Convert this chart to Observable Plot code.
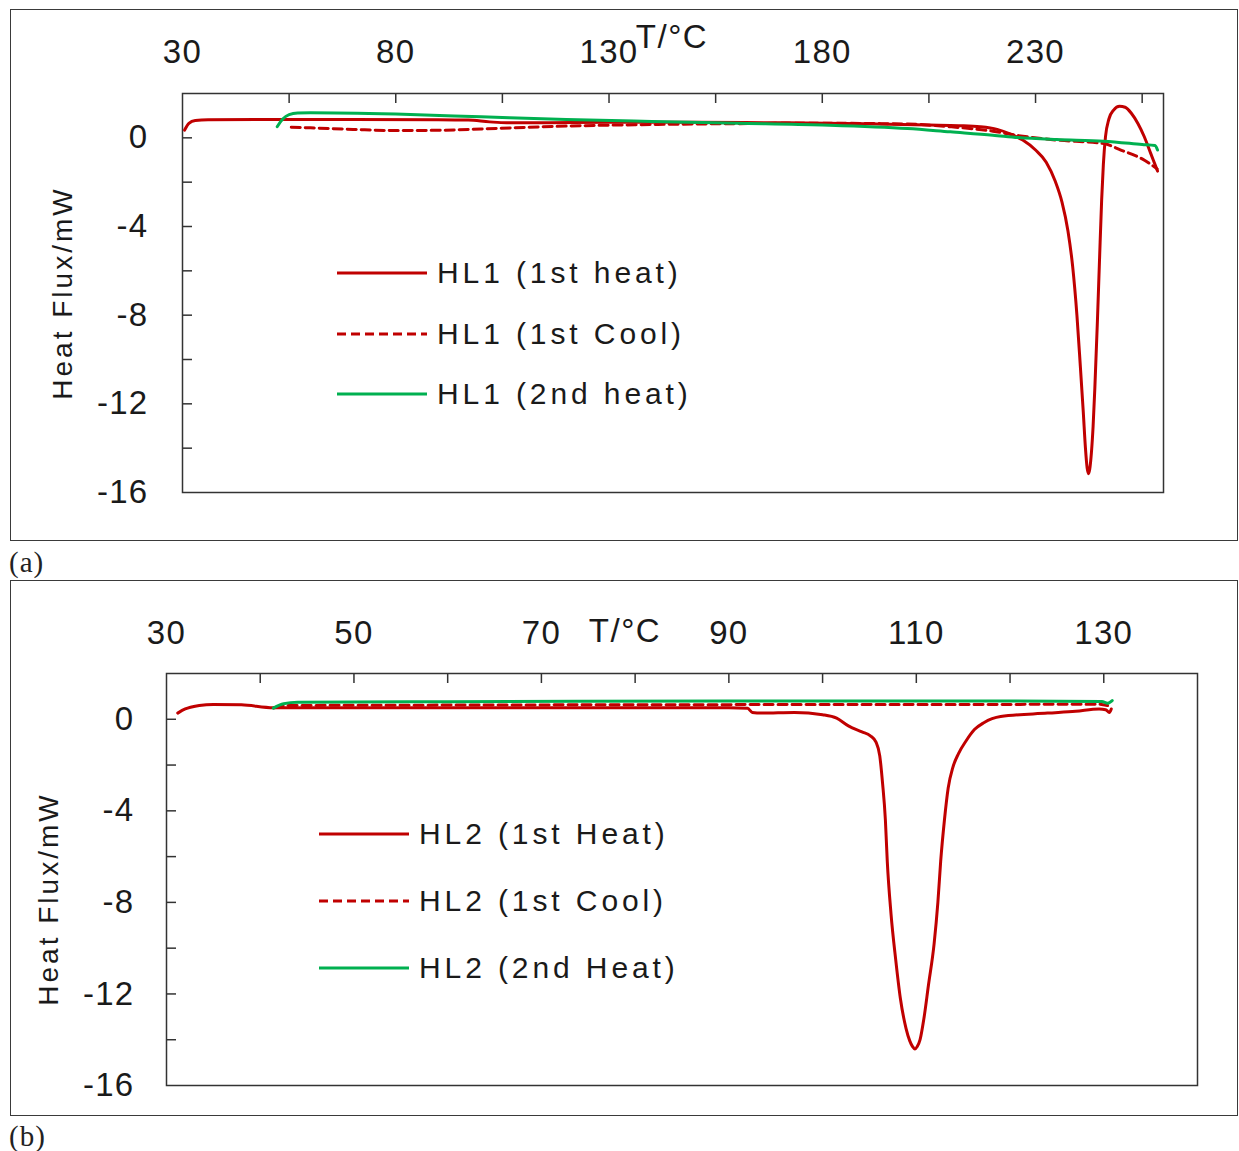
<!DOCTYPE html>
<html><head><meta charset="utf-8">
<script src="https://cdn.jsdelivr.net/npm/d3@7"></script>
<script src="https://cdn.jsdelivr.net/npm/@observablehq/plot@0.6"></script>
<style>
body{margin:0;background:#fff;}
#page{position:relative;width:1239px;height:1151px;background:#fff;font-family:"Liberation Sans",Arial,sans-serif;color:#1a1a1a;overflow:hidden}
.box{position:absolute;border:1.5px solid #3a3a3a;box-sizing:border-box}
.plot{position:absolute;left:0}
.plot text{letter-spacing:1.3px;fill:#1a1a1a}
.lbl{position:absolute;white-space:nowrap;line-height:1}
.ylab{position:absolute;white-space:nowrap;font-size:28px;letter-spacing:3px;transform:translate(-50%,-50%) rotate(-90deg);line-height:1}
.tlab{position:absolute;white-space:nowrap;font-size:33px;letter-spacing:1.5px;transform:translate(-50%,-50%);line-height:1}
.leg{position:absolute;font-size:30px;letter-spacing:3.9px;white-space:nowrap}
.leg .row{position:absolute;left:0;height:0;display:flex;align-items:center}
.leg svg{display:block;margin-right:10px}
.leg span{display:block}
.panel{position:absolute;font-family:"Liberation Serif","DejaVu Serif",serif;font-size:29px;letter-spacing:1px;color:#222;line-height:1}
</style></head>
<body><div id="page"></div>
<script>
// ---------- Panel (a) data: HL1 ----------
const hl1Heat1T = [30.5,31.5,33,36,50,70,90,97,102,106,115,130,150,170,190,205,212,217,221,224,227,230,232.5,234.6,236.2,237.6,238.7,239.7,240.5,241.2,241.7,242.1,242.4,242.7,243.1,243.5,243.9,244.5,245.0,245.5,245.9,246.4,247.2,248.3,249.7,251,252.5,254,255.5,257,258.2,258.6];
const hl1Heat1Q = [0.35,0.65,0.78,0.82,0.83,0.83,0.82,0.8,0.72,0.68,0.68,0.7,0.7,0.68,0.64,0.58,0.55,0.5,0.38,0.18,-0.1,-0.55,-1.1,-1.95,-2.9,-4.2,-5.8,-8.0,-10.3,-12.4,-14.0,-14.9,-15.15,-14.95,-14.2,-13.0,-11.3,-8.3,-5.5,-2.8,-1.2,0.05,0.85,1.25,1.42,1.38,1.1,0.65,0.05,-0.7,-1.3,-1.5];
const hl1Cool1T = [55.5,60,70,80,90,100,110,120,140,160,180,200,210,220,226,235,246,250,255,258.5];
const hl1Cool1Q = [0.48,0.45,0.38,0.33,0.34,0.4,0.47,0.53,0.6,0.64,0.66,0.62,0.5,0.3,0.1,-0.1,-0.26,-0.55,-0.95,-1.4];
const hl1Heat2T = [52.2,53.5,55,57,60,80,100,120,140,160,180,200,210,220,226,235,246,255,258,258.6];
const hl1Heat2Q = [0.5,0.85,1.05,1.12,1.13,1.07,0.95,0.83,0.74,0.66,0.58,0.42,0.27,0.12,0.01,-0.08,-0.15,-0.3,-0.35,-0.55];

// ---------- Panel (b) data: HL2 ----------
const hl2Heat1T = [31.2,32,33.5,35,38,41.4,50,70,90,92,92.5,93.5,97,100,101.5,102.8,104.2,105.1,105.7,106.1,106.4,106.7,106.9,107.3,107.8,108.3,108.9,109.3,109.6,109.85,110.1,110.4,110.8,111.3,111.9,112.3,112.6,113.0,113.4,113.9,114.5,115.3,116.2,117.2,119,124,127,129.5,130.2,130.6,130.8];
const hl2Heat1Q = [0.27,0.45,0.6,0.65,0.63,0.5,0.5,0.5,0.5,0.48,0.3,0.27,0.3,0.2,0.05,-0.3,-0.55,-0.72,-1.0,-1.6,-2.8,-4.4,-6.2,-8.5,-10.5,-12.2,-13.5,-14.05,-14.3,-14.4,-14.3,-14.0,-13.1,-11.6,-9.8,-8.0,-6.2,-4.4,-3.0,-2.1,-1.5,-0.95,-0.45,-0.15,0.12,0.27,0.35,0.45,0.42,0.3,0.45];
const hl2Cool1T = [41.5,43,60,90,120,129.5,130.4];
const hl2Cool1Q = [0.5,0.6,0.62,0.64,0.65,0.66,0.6];
const hl2Heat2T = [41.4,42.5,44,60,90,120,129.8,130.4,130.9];
const hl2Heat2Q = [0.49,0.68,0.74,0.77,0.8,0.8,0.78,0.7,0.82];

// ---------- Axes ----------
const xTicksA = [55,80,105,130,155,180,205,230,255];
const xLabelsA = [30,80,130,180,230];
const xTicksB = [40,50,60,70,80,90,100,110,120,130];
const xLabelsB = [30,50,70,90,110,130];
const yTicks = [0,-2,-4,-6,-8,-10,-12,-14];
const yLabels = [0,-4,-8,-12,-16];
const legendA = ["HL1 (1st heat)","HL1 (1st Cool)","HL1 (2nd heat)"];
const legendB = ["HL2 (1st Heat)","HL2 (1st Cool)","HL2 (2nd Heat)"];
const RED = "#c00000", GREEN = "#00b050";

const rows = (T, Q) => T.map((t, i) => ({T: t, Q: Q[i]}));
const page = document.getElementById("page");

function makePlot(o) {
  const W = 1239;
  const innerW = W - o.ml - o.mr, innerH = o.h - o.mt - o.mb;
  const p = Plot.plot({
    width: W, height: o.h,
    marginLeft: o.ml, marginRight: o.mr, marginTop: o.mt, marginBottom: o.mb,
    style: {background: "transparent", overflow: "visible", fontFamily: '"Liberation Sans", Arial, sans-serif'},
    x: {domain: o.xd},
    y: {domain: [-16, 2]},
    marks: [
      Plot.axisX({anchor: "top", label: null, ticks: o.xl, tickSize: 0, tickPadding: o.xpad, fontSize: 33, tickFormat: d => String(d)}),
      Plot.axisY({anchor: "left", label: null, ticks: yLabels, tickSize: 0, tickPadding: o.ypad, fontSize: 33, tickFormat: d => String(d)}),
      Plot.tickX(o.xt, {x: d => d, insetBottom: innerH - 10, stroke: "#333", strokeWidth: 1.5}),
      Plot.tickY(yTicks, {y: d => d, insetRight: innerW - 10, stroke: "#333", strokeWidth: 1.5}),
      Plot.frame({stroke: "#333", strokeWidth: 1.5}),
      Plot.line(rows(o.s1[0], o.s1[1]), {x: "T", y: "Q", stroke: RED, strokeWidth: 3, curve: "monotone-x"}),
      Plot.line(rows(o.s2[0], o.s2[1]), {x: "T", y: "Q", stroke: RED, strokeWidth: 3, strokeDasharray: "9,5", curve: "monotone-x"}),
      Plot.line(rows(o.s3[0], o.s3[1]), {x: "T", y: "Q", stroke: GREEN, strokeWidth: 3, curve: "monotone-x"})
    ]
  });
  p.classList.add("plot");
  p.style.top = o.top + "px";
  page.appendChild(p);
}

function box(l, t, w, h) {
  const d = document.createElement("div");
  d.className = "box";
  Object.assign(d.style, {left: l + "px", top: t + "px", width: w + "px", height: h + "px"});
  page.appendChild(d);
}
function label(cls, text, x, y) {
  const d = document.createElement("div");
  d.className = cls; d.textContent = text;
  d.style.left = x + "px"; d.style.top = y + "px";
  page.appendChild(d);
}
function legend(labels, x, ys) {
  const styles = [{c: RED, dash: null}, {c: RED, dash: "9,5"}, {c: GREEN, dash: null}];
  const g = document.createElement("div");
  g.className = "leg"; g.style.left = x + "px"; g.style.top = "0px";
  labels.forEach((lab, i) => {
    const r = document.createElement("div");
    r.className = "row"; r.style.top = ys[i] + "px";
    r.innerHTML = `<svg width="90" height="6"><line x1="0" x2="90" y1="3" y2="3" stroke="${styles[i].c}" stroke-width="3" ${styles[i].dash ? `stroke-dasharray="${styles[i].dash}"` : ""}/></svg><span></span>`;
    r.querySelector("span").textContent = lab;
    g.appendChild(r);
  });
  page.appendChild(g);
}

box(10, 9, 1228, 532);
box(10, 580, 1228, 536);

makePlot({top: 0, h: 545, ml: 182, mr: 76, mt: 93, mb: 53, xd: [30, 260], xt: xTicksA, xl: xLabelsA, xpad: 31, ypad: 34,
  s1: [hl1Heat1T, hl1Heat1Q], s2: [hl1Cool1T, hl1Cool1Q], s3: [hl1Heat2T, hl1Heat2Q]});
makePlot({top: 580, h: 540, ml: 166, mr: 42, mt: 93, mb: 35, xd: [30, 140], xt: xTicksB, xl: xLabelsB, xpad: 30, ypad: 32,
  s1: [hl2Heat1T, hl2Heat1Q], s2: [hl2Cool1T, hl2Cool1Q], s3: [hl2Heat2T, hl2Heat2Q]});

label("tlab", "T/°C", 672, 36);
label("tlab", "T/°C", 625, 630);
label("ylab", "Heat Flux/mW", 63, 293);
label("ylab", "Heat Flux/mW", 49, 899);
legend(legendA, 337, [273, 334, 394]);
legend(legendB, 319, [834, 901, 968]);
label("panel", "(a)", 9, 548);
label("panel", "(b)", 9, 1122);
</script></body></html>
